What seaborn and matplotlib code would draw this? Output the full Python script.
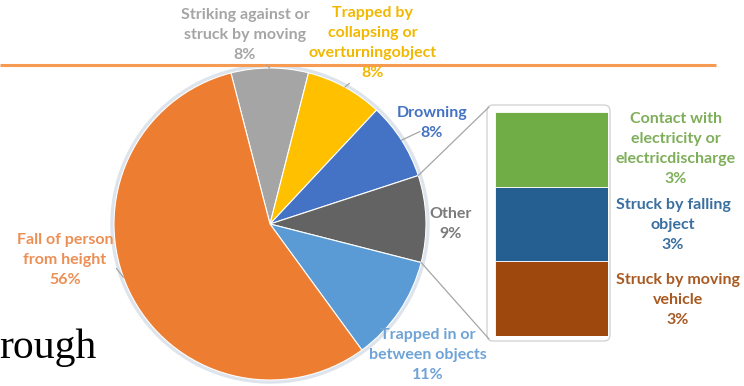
import numpy as np
import matplotlib
matplotlib.use("Agg")
import matplotlib.pyplot as plt
from matplotlib.patches import FancyBboxPatch, Circle
import seaborn as sns

# ---------------- data ----------------
pie_labels = ["Striking against or\nstruck by moving",
              "Trapped by\ncollapsing or\noverturningobject",
              "Drowning",
              "Other",
              "Trapped in or\nbetween objects",
              "Fall of person\nfrom height"]
pie_values = [8, 8, 8, 9, 11, 56]
pie_colors = ["#a5a5a5", "#ffc000", "#4472c4", "#636363", "#5b9bd5", "#ed7d31"]
pie_text_colors = ["#a5a5a5", "#f2b800", "#4472c4", "#7a7a7a", "#6fa3d6", "#ec8f55"]

bar_labels = ["Struck by moving\nvehicle",
              "Struck by falling\nobject",
              "Contact with\nelectricity or\nelectricdischarge"]
bar_values = [3, 3, 3]
bar_colors = ["#9e480e", "#255e91", "#70ad47"]
bar_text_colors = ["#a85a22", "#3a6fa0", "#7fae5a"]

# ---------------- layout ----------------
sns.set_theme(style="white")
plt.rcParams["font.family"] = ["Lato", "DejaVu Sans"]

W, H = 744, 386
fig = plt.figure(figsize=(W / 100, H / 100), dpi=100)
ax = fig.add_axes([0, 0, 1, 1])

cx, cy, R = 270, H - 224, 156
start = 104.5
FS = 11.5
LS = 1.55

ax.add_patch(Circle((cx, cy), R + 3, color="#dde4eb", zorder=0))
wedges, _ = ax.pie(pie_values, colors=pie_colors, startangle=start,
                   counterclock=False, center=(cx, cy), radius=R,
                   wedgeprops=dict(edgecolor="white", linewidth=0.8, zorder=1),
                   frame=True)
ax.set_xlim(0, W)
ax.set_ylim(0, H)
ax.set_aspect("equal")
ax.axis("off")

# orange document rule line
ax.hlines(H - 65, 0, 716, color="#f79a52", lw=2.2, zorder=0.5)

# document text fragment
ax.text(-1, H - 358, "rough", fontfamily="Liberation Serif", fontsize=30,
        color="black", va="baseline", ha="left")

total = sum(pie_values)
cum = np.cumsum([0] + pie_values)
theta1 = start - cum[:-1] / total * 360
theta2 = start - cum[1:] / total * 360
mids = (theta1 + theta2) / 2

def edge(a, r=R):
    return (cx + r * np.cos(np.radians(a)), cy + r * np.sin(np.radians(a)))

# label positions (pixel centers), leader anchor on text bbox, leader target angle
label_pos = [(245, 35), (373, 43), (432, 123), (451, 224), (428, 355), (65, 260)]
leader_rel = [(0.63, 0.02), (0.40, 0.08), (0.33, 0.25), None, None, (1.0, 0.42)]
leader_ang = [mids[0], mids[1], mids[2], None, None, 200]
for i, lab in enumerate(pie_labels):
    txt = f"{lab}\n{pie_values[i]}%"
    x, y = label_pos[i]
    if leader_rel[i] is not None:
        ax.annotate(txt, xy=edge(leader_ang[i]), xytext=(x, H - y),
                    ha="center", va="center", fontsize=FS, fontweight="bold",
                    color=pie_text_colors[i], linespacing=LS,
                    arrowprops=dict(arrowstyle="-", color="#a6a6a6", lw=0.9,
                                    shrinkA=0, shrinkB=0,
                                    relpos=leader_rel[i]))
    else:
        ax.text(x, H - y, txt, ha="center", va="center", fontsize=FS,
                fontweight="bold", color=pie_text_colors[i], linespacing=LS)

# frame around the bar of pie
ax.add_patch(FancyBboxPatch((487, H - 341), 123, 236,
                            boxstyle="round,pad=0,rounding_size=6",
                            facecolor="white", edgecolor="#d4d4d4", lw=1,
                            zorder=2))

# stacked bar
bax = fig.add_axes([495 / W, (H - 336) / H, 113 / W, 224 / H])
bottom = 0
for v, c in zip(bar_values, bar_colors):
    bax.bar(0, v, bottom=bottom, width=1, color=c, edgecolor="white", lw=0.6)
    bottom += v
bax.set_xlim(-0.5, 0.5)
bax.set_ylim(0, sum(bar_values))
bax.axis("off")

# connector lines from "Other" slice to bar frame
other = pie_labels.index("Other")
for a, yb in [(theta1[other], H - 107), (theta2[other], H - 339)]:
    p = edge(a)
    ax.plot([p[0], 489], [p[1], yb], color="#a6a6a6", lw=0.9, zorder=3)

# bar labels
bar_label_pos = [(678, 300), (673, 225), (676, 149)]
for lab, v, c, (x, y) in zip(bar_labels, bar_values, bar_text_colors, bar_label_pos):
    ax.text(x, H - y, f"{lab}\n{v}%", ha="center", va="center", fontsize=FS,
            fontweight="bold", color=c, linespacing=LS)

fig.savefig("out.png", dpi=100)
